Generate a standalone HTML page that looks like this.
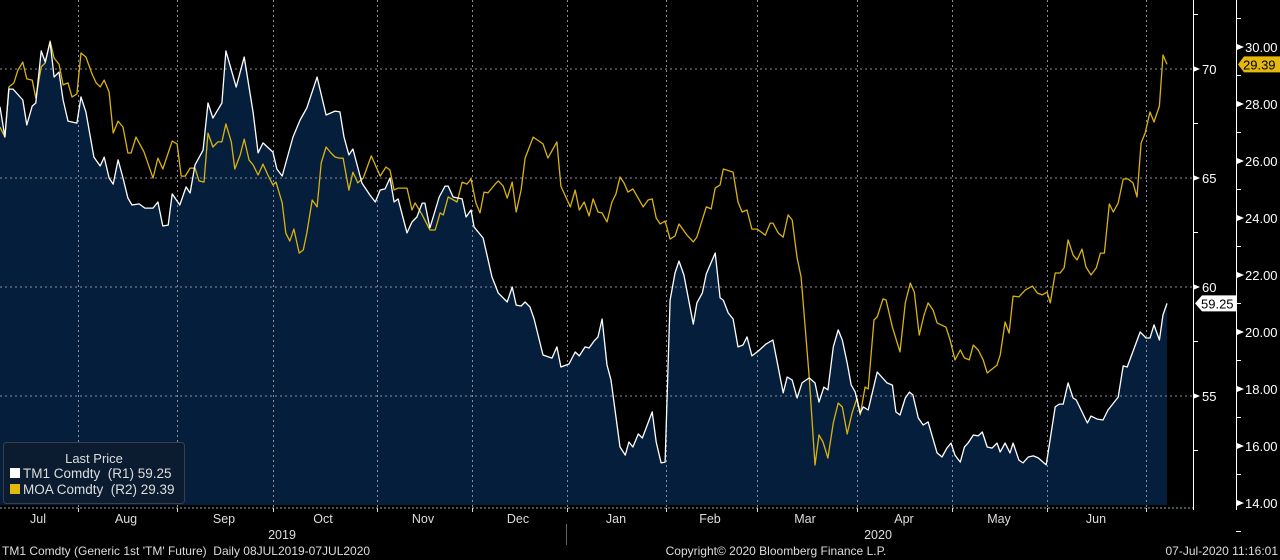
<!DOCTYPE html>
<html><head><meta charset="utf-8"><style>
html,body{margin:0;padding:0;background:#000;width:1280px;height:560px;overflow:hidden}
svg{display:block;font-family:"Liberation Sans",sans-serif}
.pre{white-space:pre}
</style></head><body>
<svg id="chart" width="1280" height="560" viewBox="0 0 1280 560" xmlns="http://www.w3.org/2000/svg"></svg>
<script>
// ---- data ----
const monthLabels=["Jul","Aug","Sep","Oct","Nov","Dec","Jan","Feb","Mar","Apr","May","Jun"];
const monthStarts=[17.4,39.6,61.0,84.3,105.5,126.8,148.9,169.3,191.6,212.9,234.1,256.3];
const r1Ticks=[55,60,65,70];
const r2Ticks=[14,16,18,20,22,24,26,28,30];
const tmT=[0,1.1,2.0,2.9,5.1,6.0,7.2,8.0,9.2,10.1,11.2,12.1,13.2,14.1,15.2,17.2,18.1,19.2,21.0,22.4,23.3,24.4,25.3,26.4,27.5,28.6,29.5,31.1,32.4,34.2,35.3,36.4,37.6,38.5,40.2,41.6,42.5,43.6,45.4,46.5,47.6,49.6,50.5,52.8,54.6,56.6,57.7,58.8,61.0,61.9,63.1,65.5,67.1,68.6,70.9,72.9,74.9,76.0,76.9,78.0,78.9,80.9,82.7,83.9,85.0,86.1,87.2,88.1,89.0,91.0,92.1,93.2,94.4,95.0,96.1,98.2,99.5,100.2,101.3,103.3,104.2,105.3,106.0,108.0,110.0,111.4,113.4,114.5,115.4,116.5,117.4,118.5,119.4,121.4,123.4,124.5,125.4,127.2,128.6,129.5,130.8,131.7,132.8,133.7,134.6,135.7,136.6,138.6,139.8,140.6,141.5,142.7,143.6,145.8,146.7,147.8,148.7,149.8,150.9,151.8,152.9,155.0,155.8,157.0,157.9,159.9,161.0,161.7,162.8,163.9,165.0,166.1,167.0,168.1,169.5,171.3,172.8,175.1,176.0,177.1,178.2,179.3,180.9,182.2,183.1,184.2,185.1,186.3,187.4,188.3,189.4,190.3,191.2,192.3,193.0,194.1,196.1,198.3,199.5,200.3,201.2,202.4,203.3,204.1,205.3,206.4,207.5,209.5,210.6,211.7,212.6,213.5,214.7,215.6,216.4,217.6,218.7,219.6,220.7,221.8,222.9,223.6,224.7,225.8,226.5,227.8,228.7,229.9,231.0,232.1,233.9,235.9,236.8,237.7,238.8,239.9,240.6,243.1,243.9,245.3,246.6,247.7,250.0,251.1,252.0,254.9,256.2,257.1,258.0,259.2,260.0,260.9];
const tmVals=[68.26,66.88,69.08,69.08,68.58,67.43,68.30,68.44,70.83,70.32,71.24,69.63,69.86,68.58,67.61,67.52,68.72,68.03,65.96,65.55,65.96,65.00,64.72,65.83,65.00,64.08,63.76,63.81,63.62,63.62,63.90,62.80,62.84,64.27,63.76,64.59,64.31,65.60,66.28,68.44,67.75,68.44,70.83,69.17,70.55,67.98,66.15,66.61,66.19,65.41,65.09,66.88,67.66,68.21,69.63,67.89,68.07,68.03,66.88,66.06,66.33,64.77,64.22,63.90,64.45,64.50,65.00,63.90,64.04,62.48,62.98,63.21,63.85,63.85,62.71,64.13,64.63,64.63,64.13,64.04,63.21,63.53,62.75,62.25,60.46,59.72,59.31,60.00,59.17,59.13,59.31,59.08,58.53,56.88,56.74,57.25,56.33,56.47,57.02,56.84,57.25,57.20,57.52,57.71,58.53,56.42,55.73,52.66,52.29,52.89,52.66,53.26,53.07,54.27,52.89,51.93,51.97,59.40,60.64,61.19,60.55,58.30,59.27,59.72,60.60,61.56,59.50,59.40,58.81,58.53,57.25,57.34,57.71,56.84,57.06,57.39,57.57,55.14,55.87,55.73,54.91,55.60,55.83,55.60,54.72,55.41,55.28,57.25,58.03,57.57,56.51,55.50,55.18,54.22,54.50,54.36,56.10,55.60,55.50,54.27,54.13,54.91,55.18,55.05,53.99,53.67,53.81,52.39,52.20,52.61,52.84,52.29,51.97,52.66,52.84,53.21,53.17,53.35,52.66,52.61,52.84,52.43,52.84,52.39,52.84,52.06,51.93,52.20,52.25,52.16,51.84,54.50,54.63,54.63,55.60,54.91,54.82,53.76,54.08,53.94,53.90,54.36,54.95,56.38,56.33,57.94,57.66,57.66,58.26,57.57,58.72,59.25];
const moaT=[0,1.1,2.0,3.1,4.0,5.1,6.0,7.2,8.0,9.2,10.1,11.2,12.1,13.2,14.1,15.2,16.1,17.2,18.1,19.2,20.6,21.5,22.4,23.3,24.4,25.3,26.4,27.5,28.6,29.3,30.4,32.2,34.2,35.3,36.4,38.5,39.6,40.5,41.4,42.5,43.6,44.5,45.6,46.5,47.6,48.7,49.6,50.5,51.7,52.5,53.7,54.6,55.7,56.6,57.7,58.8,59.9,61.0,61.7,63.1,63.9,64.8,65.7,66.9,67.8,68.6,69.8,70.9,71.8,72.9,74.0,74.9,75.8,76.7,78.0,78.9,80.0,81.2,83.0,83.9,85.0,86.3,87.2,88.1,89.0,91.0,92.1,92.8,94.4,96.1,97.3,98.4,99.1,100.2,102.2,103.3,104.4,105.3,106.4,107.3,108.2,109.1,110.7,111.4,112.5,113.4,114.5,115.4,116.5,117.4,119.2,121.4,122.5,124.5,125.4,127.5,128.6,129.5,130.6,131.7,132.6,133.7,134.6,135.7,136.8,137.7,138.6,139.5,140.4,141.5,143.8,144.9,145.8,146.7,147.6,148.7,149.8,150.9,151.8,153.6,155.0,155.8,157.9,159.0,159.9,161.0,161.7,163.9,165.0,165.9,167.0,168.1,169.3,171.1,172.2,172.8,174.0,175.1,176.2,177.1,178.2,179.1,180.9,182.2,183.1,184.0,185.1,186.3,187.4,188.3,189.4,190.5,191.6,192.3,193.4,194.1,195.4,196.1,197.4,198.1,199.5,201.2,202.4,203.5,204.4,205.5,206.6,207.5,208.6,209.5,211.5,212.4,213.5,214.7,215.6,216.7,217.6,218.7,219.8,220.7,222.9,223.6,224.7,225.6,226.5,227.8,229.2,230.8,231.9,233.0,234.1,234.8,235.9,237.0,237.9,238.8,239.9,240.8,241.9,242.8,243.9,245.1,246.0,246.9,248.0,248.9,250.0,251.1,252.2,253.3,254.2,255.1,256.0,257.1,258.0,259.2,260.0,260.9];
const moaVals=[27.19,26.84,28.60,28.74,29.19,29.47,28.88,28.84,28.21,29.30,29.44,30.21,29.61,29.40,28.67,28.74,28.25,28.35,29.79,29.65,29.05,28.74,28.60,28.84,28.42,26.98,27.40,27.19,26.28,26.28,26.84,26.32,25.40,26.10,25.72,26.70,26.60,25.47,25.47,25.75,25.75,25.30,25.26,26.98,26.49,26.67,26.67,27.30,26.67,25.72,26.21,26.77,26.03,25.86,25.51,25.89,25.51,25.16,25.26,24.53,23.47,23.19,23.61,22.77,22.88,23.47,24.63,24.39,25.93,26.49,26.28,26.14,26.10,26.10,24.98,25.61,25.23,25.40,26.18,25.86,25.47,25.79,25.68,24.98,25.05,25.05,24.28,24.53,24.11,23.58,23.58,24.18,24.11,24.74,24.56,25.26,25.19,25.37,24.53,24.18,24.91,24.88,25.19,25.30,25.12,24.70,25.26,24.21,24.98,26.10,26.84,26.60,26.10,26.67,25.12,24.39,24.98,24.28,24.56,24.07,24.67,24.21,24.18,23.86,24.56,24.84,25.44,25.23,24.91,25.02,24.39,24.63,24.67,24.00,23.79,23.89,23.26,23.37,23.79,23.40,23.16,23.33,24.39,24.32,25.05,25.16,25.72,25.61,24.56,24.21,24.28,23.61,23.61,23.40,23.82,23.82,23.47,23.33,24.11,23.93,22.60,21.93,18.42,15.33,16.39,16.14,15.58,16.81,17.51,17.37,16.42,17.16,17.68,17.09,18.07,18.00,20.42,20.53,21.16,21.12,20.17,19.30,21.02,21.72,21.40,19.89,20.60,21.02,20.77,20.32,20.17,19.72,19.02,19.37,19.09,19.02,19.54,19.37,19.02,18.56,18.84,19.19,20.35,19.96,21.26,21.23,21.47,21.61,21.37,21.30,21.40,21.02,22.07,22.07,22.25,23.23,22.70,22.53,22.91,22.28,22.00,22.25,22.77,22.77,24.49,24.21,24.53,25.37,25.37,25.23,24.74,26.63,26.98,27.72,27.37,27.93,29.72,29.39];
const tmLast="59.25", moaLast="29.39";

// ---- scales ----
const PX_PER_DAY=1167/260.9, PLOT_R=1193, PLOT_B=505;
function xS(t){return t*PX_PER_DAY;}
function y1(v){return 69+(70-v)*21.8;}
function y2(v){return 47+(30-v)*28.5;}

const NS="http://www.w3.org/2000/svg", svg=document.getElementById('chart');
function mk(tag,attrs,parent){const e=document.createElementNS(NS,tag);for(const k in attrs)e.setAttribute(k,attrs[k]);(parent||svg).appendChild(e);return e;}
function txt(s,attrs,parent){const e=mk('text',attrs,parent);e.textContent=s;return e;}

let d="M"+xS(tmT[0])+","+PLOT_B;
for(let i=0;i<tmT.length;i++)d+=" L"+xS(tmT[i]).toFixed(1)+","+y1(tmVals[i]).toFixed(1);
d+=" L"+xS(tmT[tmT.length-1]).toFixed(1)+","+PLOT_B+" Z";
const area=mk('path',{d:d,fill:"#051e3b"});



for(const v of r1Ticks){const g=mk('line',{x1:0,x2:PLOT_R,y1:y1(v),y2:y1(v),stroke:"#8a8f99","stroke-width":1,"stroke-dasharray":"2,3"});

}
for(let i=0;i<monthStarts.length;i++){const x=Math.round(xS(monthStarts[i]))+0.5;
const g=mk('line',{x1:x,x2:x,y1:0,y2:PLOT_B+3,stroke:"#8a8f99","stroke-width":1,"stroke-dasharray":"2,3"});

}
const xb=mk('line',{x1:0,x2:PLOT_R,y1:508,y2:508,stroke:"#9aa","stroke-width":1,"stroke-dasharray":"2,2"});



function linePath(T,V,ys){let s="";for(let i=0;i<T.length;i++)s+=(i?" L":"M")+xS(T[i]).toFixed(1)+","+ys(V[i]).toFixed(1);return s;}
const moaLine=mk('path',{d:linePath(moaT,moaVals,y2),fill:"none",stroke:"#d9b310","stroke-width":1.3,"stroke-linejoin":"round"});


const tmLine=mk('path',{d:linePath(tmT,tmVals,y1),fill:"none",stroke:"#ffffff","stroke-width":1.3,"stroke-linejoin":"round"});



mk('rect',{x:PLOT_R,y:0,width:87,height:510,fill:"#000"});
const ax1=mk('line',{x1:PLOT_R+0.5,x2:PLOT_R+0.5,y1:0,y2:510,stroke:"#fff","stroke-width":1});


const ax2=mk('line',{x1:1236.5,x2:1236.5,y1:0,y2:510,stroke:"#fff","stroke-width":1});


for(let v=52.5;v<=72.5;v+=5){mk('line',{x1:PLOT_R,x2:PLOT_R+5,y1:y1(v),y2:y1(v),stroke:"#fff"});}
for(const v of r1Ticks){const y=y1(v);
mk('path',{d:`M${PLOT_R},${y-3} L${PLOT_R+7},${y} L${PLOT_R},${y+3} Z`,fill:"#fff"});
const t=txt(String(v),{x:PLOT_R+9,y:y+5,fill:"#fff","font-size":13});

}
for(let v=13;v<=31;v+=2){mk('line',{x1:1236,x2:1241,y1:y2(v),y2:y2(v),stroke:"#fff"});}
for(const v of r2Ticks){const y=y2(v);
mk('path',{d:`M1237,${y-3} L1244,${y} L1237,${y+3} Z`,fill:"#fff"});
const t=txt(v.toFixed(2),{x:1245,y:y+5,fill:"#fff","font-size":13});

}

{const y=y1(parseFloat(tmLast));
const b=mk('path',{d:`M1195,${y} L1202,${y-8} L1236,${y-8} L1236,${y+8} L1202,${y+8} Z`,fill:"#fff"});


txt(tmLast,{x:1201,y:y+5,fill:"#000","font-size":13});}
{const y=y2(parseFloat(moaLast));
const b=mk('path',{d:`M1238,${y} L1244,${y-8} L1280,${y-8} L1280,${y+8} L1244,${y+8} Z`,fill:"#e3b80f"});


txt(moaLast,{x:1243,y:y+5,fill:"#000","font-size":13});}

const labelX=[38,126,224,323,423,518,616,710,805,904,999,1096];
for(let i=0;i<monthLabels.length;i++){
const t=txt(monthLabels[i],{x:labelX[i],y:523,fill:"#ddd","font-size":12.5,"text-anchor":"middle"});


const x=Math.round(xS(monthStarts[i]))+0.5;
mk('line',{x1:x,x2:x,y1:508,y2:512,stroke:"#ddd"});}
</script>
<svg style="position:absolute;left:0;top:0" width="1280" height="560">
<g font-family="Liberation Sans, sans-serif">
<text x="282" y="539" fill="#ddd" font-size="12.5" text-anchor="middle">2019</text>
<line x1="566.5" x2="566.5" y1="524" y2="545" stroke="#666"/>
<text x="878" y="539" fill="#ddd" font-size="12.5" text-anchor="middle">2020</text>
<text class="pre" x="2" y="555" fill="#ddd" font-size="12">TM1 Comdty (Generic 1st 'TM' Future)  Daily 08JUL2019-07JUL2020</text>
<text x="776" y="555" fill="#ddd" font-size="12" text-anchor="middle">Copyright© 2020 Bloomberg Finance L.P.</text>
<text x="1278" y="555" fill="#ddd" font-size="12" text-anchor="end">07-Jul-2020 11:16:01</text>
<g>
<rect x="3.5" y="442.5" width="181" height="61" rx="3" fill="#0b1c30" stroke="#3a3f48"/>
<text x="94" y="463" fill="#ddd" font-size="13" text-anchor="middle">Last Price</text>
<rect x="10" y="468" width="10" height="10" fill="#fff"/>
<text class="pre" x="23" y="478" fill="#ddd" font-size="13.5">TM1 Comdty  (R1) 59.25</text>
<rect x="10" y="484" width="10" height="10" fill="#e3b80f"/>
<text class="pre" x="23" y="494" fill="#ddd" font-size="13.5">MOA Comdty  (R2) 29.39</text>
</g></g></svg>
</body></html>
